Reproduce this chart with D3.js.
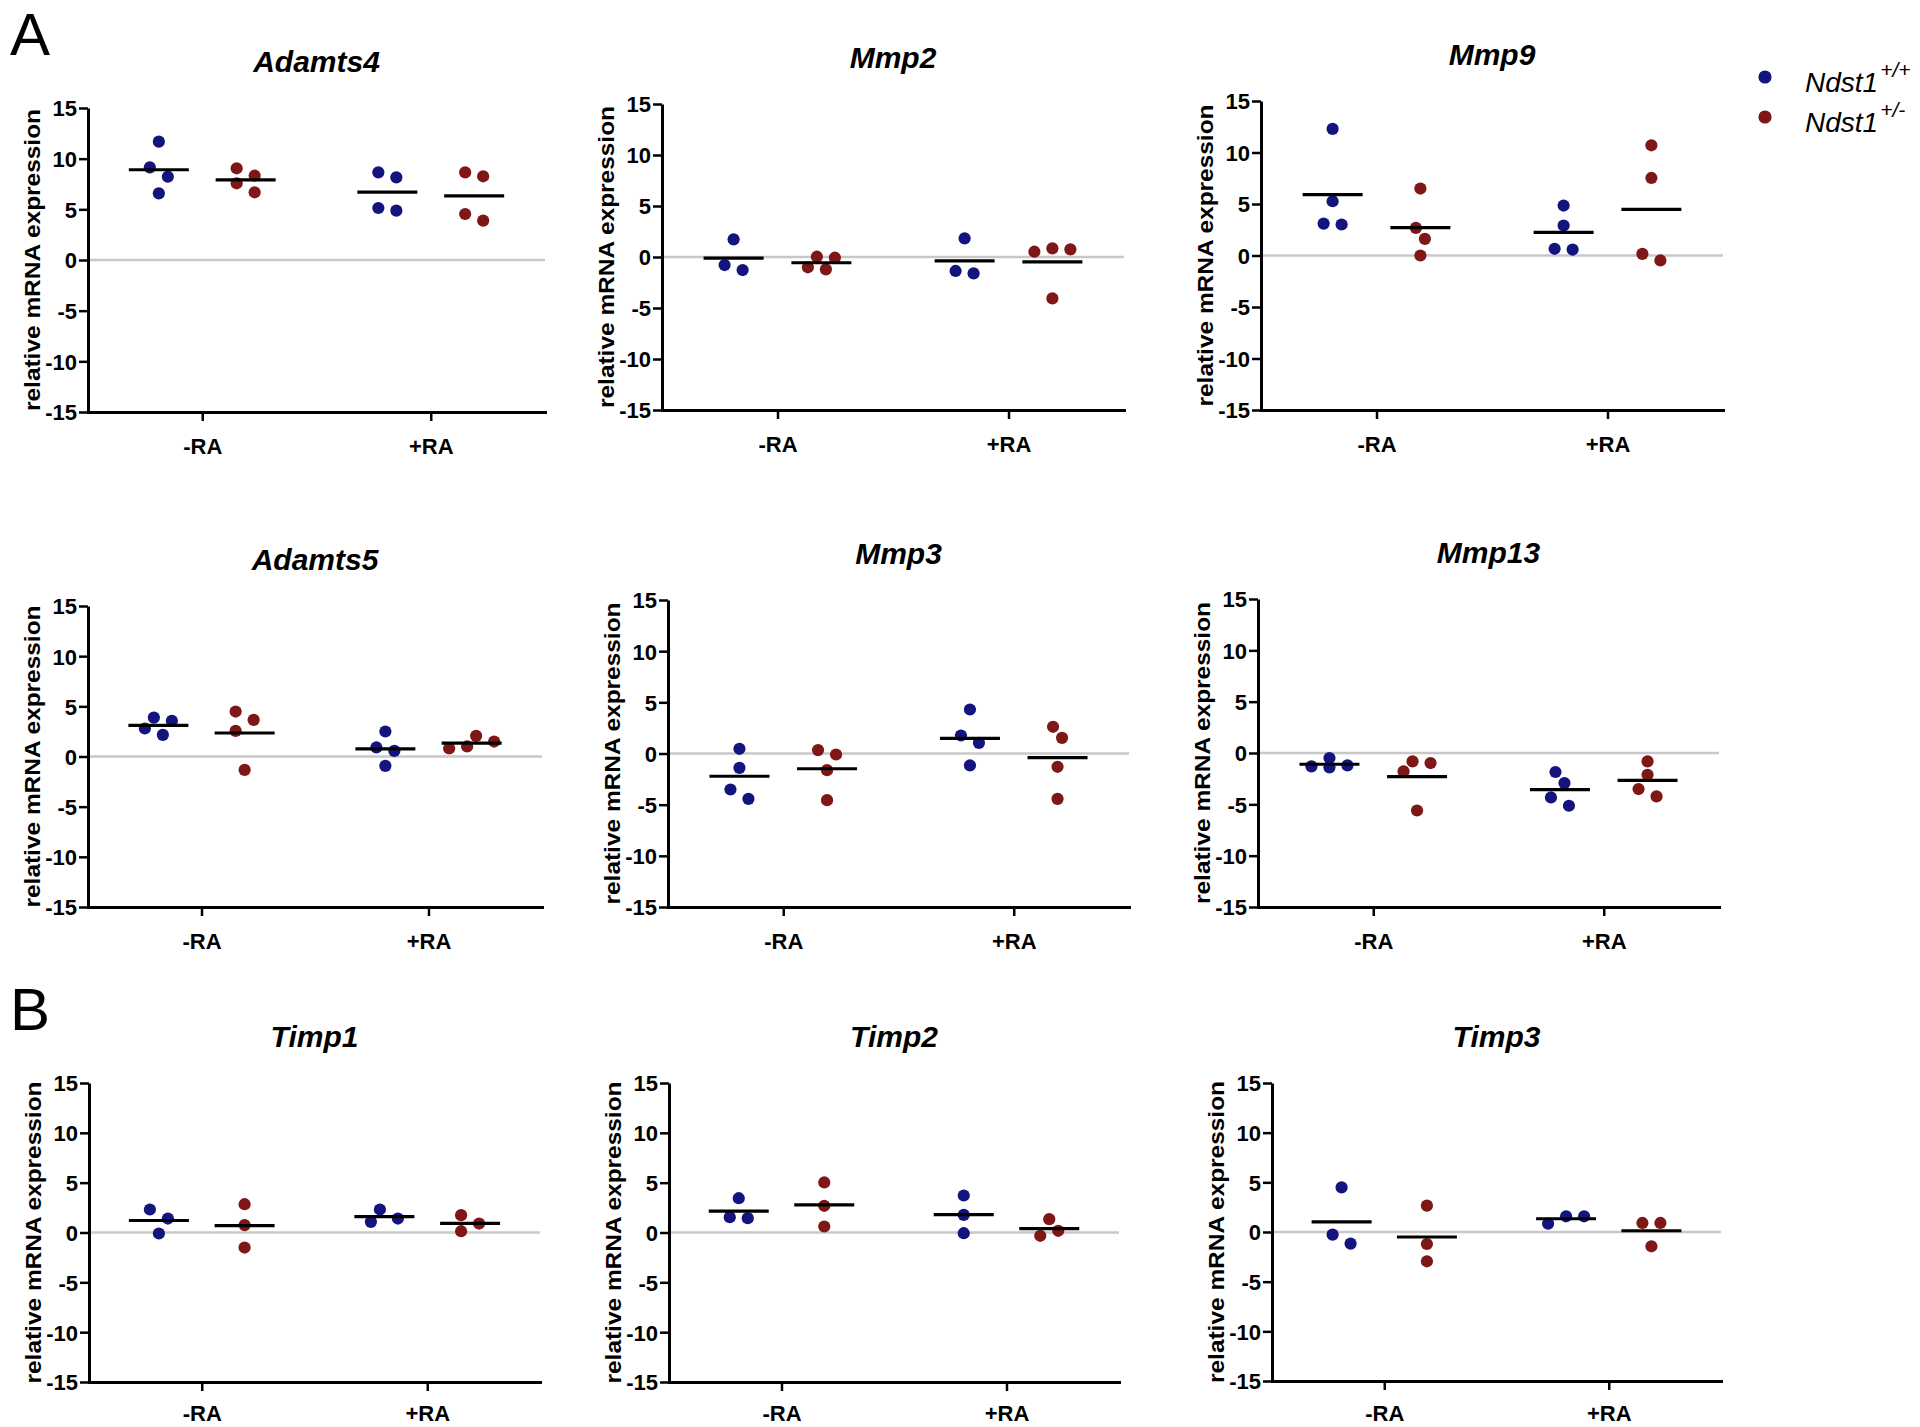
<!DOCTYPE html>
<html>
<head>
<meta charset="utf-8">
<script src="https://cdn.jsdelivr.net/npm/d3@7"></script>
<style>
  body { margin: 0; background: #ffffff; }
  svg { display: block; font-family: "Liberation Sans", Arial, sans-serif; }
</style>
</head>
<body>
<svg id="chart" width="1920" height="1427"></svg>
<script>
// ---------------- DATA ----------------
const genes = ["Adamts4", "Mmp2", "Mmp9", "Adamts5", "Mmp3", "Mmp13", "Timp1", "Timp2", "Timp3"];
const treatments = ["-RA", "+RA"];
const genotypeNames = ["Ndst1", "Ndst1"];
const genotypeSups = ["+/+", "+/-"];
const yTicks = [-15, -10, -5, 0, 5, 10, 15];
const yLabel = "relative mRNA expression";
const sectionLabels = ["A", "B"];

// each array: [values at -RA, values at +RA]
const adamts4Wt  = [[11.68, 9.14, 8.22, 6.58], [8.65, 8.16, 5.13, 4.87]];
const adamts4Het = [[9.05, 8.32, 7.57, 6.68], [8.65, 8.26, 4.54, 3.88]];
const mmp2Wt     = [[1.73, -0.79, -1.28], [1.83, -1.37, -1.60]];
const mmp2Het    = [[0.03, -0.07, -1.01, -1.21], [0.85, 0.75, 0.52, -4.06]];
const mmp9Wt     = [[12.29, 5.27, 3.10, 3.01], [4.85, 2.91, 0.65, 0.58]];
const mmp9Het    = [[6.50, 2.68, 1.62, 0.00], [10.70, 7.53, 0.16, -0.48]];
const adamts5Wt  = [[3.88, 3.55, 2.79, 2.16], [2.49, 0.90, 0.56, -0.93]];
const adamts5Het = [[4.48, 3.65, 2.56, -1.33], [2.06, 1.49, 1.00, 0.80]];
const mmp3Wt     = [[0.46, -1.40, -3.52, -4.43], [4.30, 1.76, 1.04, -1.17]];
const mmp3Het    = [[0.33, -0.10, -1.63, -4.56], [2.61, 1.53, -1.30, -4.43]];
const mmp13Wt    = [[-0.49, -1.20, -1.30, -1.40], [-1.85, -2.93, -4.33, -5.14]];
const mmp13Het   = [[-0.81, -0.98, -1.79, -5.60], [-0.81, -2.12, -3.51, -4.23]];
const timp1Wt    = [[2.31, 1.40, -0.10], [2.31, 1.40, 1.07]];
const timp1Het   = [[2.84, 0.74, -1.51], [1.74, 0.90, 0.13]];
const timp2Wt    = [[3.44, 1.54, 1.44], [3.71, 1.77, -0.07]];
const timp2Het   = [[5.02, 2.68, 0.60], [1.34, 0.17, -0.33]];
const timp3Wt    = [[4.49, -0.27, -1.17], [1.58, 1.58, 0.84]];
const timp3Het   = [[2.65, -1.21, -2.95], [0.91, 0.91, -1.44]];

const seriesByGene = [
  [adamts4Wt, adamts4Het], [mmp2Wt, mmp2Het], [mmp9Wt, mmp9Het],
  [adamts5Wt, adamts5Het], [mmp3Wt, mmp3Het], [mmp13Wt, mmp13Het],
  [timp1Wt, timp1Het], [timp2Wt, timp2Het], [timp3Wt, timp3Het]
];

// ---------------- LAYOUT / STYLE ----------------
const frames = [
  {x0: 88,   x1: 545,  y0: 108,  y1: 412},
  {x0: 662,  x1: 1124, y0: 104,  y1: 410},
  {x0: 1261, x1: 1723, y0: 101,  y1: 410},
  {x0: 88,   x1: 542,  y0: 606,  y1: 907},
  {x0: 668,  x1: 1129, y0: 600,  y1: 907},
  {x0: 1258, x1: 1719, y0: 599,  y1: 907},
  {x0: 89,   x1: 540,  y0: 1083, y1: 1382},
  {x0: 669,  x1: 1119, y0: 1083, y1: 1382},
  {x0: 1272, x1: 1721, y0: 1083, y1: 1381}
];
const colors = ["#14147e", "#7f1717"];
const dotR = 6.1;
const swarmStep = 9;
const meanHalf = 30;
const tickFont = 22;

const svg = d3.select("#chart");
svg.append("rect").attr("width", 1920).attr("height", 1427).attr("fill", "#fff");

// section letters
const sectionPos = [{x: 10, y: 55}, {x: 10, y: 1030}];
sectionLabels.forEach((s, i) => {
  svg.append("text").attr("x", sectionPos[i].x).attr("y", sectionPos[i].y)
    .attr("font-size", 60).attr("fill", "#000").text(s);
});

function swarm(vals, y) {
  const pts = vals.map(v => ({v, py: y(v), dx: 0})).sort((a, b) => a.py - b.py);
  const minD = 2 * dotR + 1;
  const cands = [0, swarmStep, -swarmStep, 2 * swarmStep, -2 * swarmStep, 3 * swarmStep, -3 * swarmStep];
  const placed = [];
  for (const p of pts) {
    for (const c of cands) {
      if (placed.every(q => Math.hypot(q.dx - c, q.py - p.py) >= minD)) { p.dx = c; break; }
    }
    placed.push(p);
  }
  // center each vertical cluster
  let cluster = [];
  const flush = () => {
    if (cluster.length > 1) {
      const ext = d3.extent(cluster, d => d.dx);
      const shift = (ext[0] + ext[1]) / 2;
      cluster.forEach(d => d.dx -= shift);
    }
    cluster = [];
  };
  pts.forEach((p, i) => {
    if (i > 0 && p.py - pts[i - 1].py >= minD) flush();
    cluster.push(p);
  });
  flush();
  return pts;
}

genes.forEach((gene, gi) => {
  const f = frames[gi];
  const g = svg.append("g");
  const y = d3.scaleLinear().domain([-15, 15]).range([f.y1, f.y0]);
  const x = d3.scalePoint().domain(treatments).range([f.x0, f.x1]).padding(0.5);
  const off = x.step() * 0.19;
  const sub = d3.scalePoint().domain([0, 1]).range([-off, off]);

  // zero line
  g.append("line").attr("x1", f.x0).attr("x2", f.x1)
    .attr("y1", y(0)).attr("y2", y(0))
    .attr("stroke", "#c8c8c8").attr("stroke-width", 2.5);

  // points
  seriesByGene[gi].forEach((ser, k) => {
    ser.forEach((vals, t) => {
      const cx = x(treatments[t]) + sub(k);
      const pts = swarm(vals, y);
      g.selectAll(null).data(pts).enter().append("circle")
        .attr("cx", d => cx + d.dx).attr("cy", d => d.py)
        .attr("r", dotR).attr("fill", colors[k]);
    });
  });
  // mean lines
  seriesByGene[gi].forEach((ser, k) => {
    ser.forEach((vals, t) => {
      const cx = x(treatments[t]) + sub(k);
      const m = d3.mean(vals);
      g.append("line").attr("x1", cx - meanHalf).attr("x2", cx + meanHalf)
        .attr("y1", y(m)).attr("y2", y(m))
        .attr("stroke", "#000").attr("stroke-width", 3.2);
    });
  });

  // y axis
  const ya = g.append("g").attr("transform", `translate(${f.x0},0)`)
    .call(d3.axisLeft(y).tickValues(yTicks).tickFormat(d => String(d))
      .tickSize(9).tickSizeOuter(0).tickPadding(2));
  ya.select(".domain").attr("stroke-width", 3).attr("stroke", "#000");
  ya.selectAll(".tick line").attr("stroke-width", 2.5).attr("stroke", "#000");
  ya.selectAll(".tick text").attr("font-size", tickFont).attr("font-weight", "bold")
    .attr("font-family", "Liberation Sans, Arial, sans-serif").attr("fill", "#000").attr("dy", "0.36em");

  // x axis
  const labelOff = Math.min(42, 1421 - f.y1);
  const xa = g.append("g").attr("transform", `translate(0,${f.y1})`)
    .call(d3.axisBottom(x).tickSize(9).tickSizeOuter(0));
  xa.select(".domain").attr("stroke-width", 3).attr("stroke", "#000").attr("stroke-linecap", "square");
  xa.selectAll(".tick line").attr("stroke-width", 2.5).attr("stroke", "#000");
  xa.selectAll(".tick text").attr("y", labelOff).attr("dy", null)
    .attr("font-size", tickFont).attr("font-weight", "bold")
    .attr("font-family", "Liberation Sans, Arial, sans-serif").attr("fill", "#000");

  // y label
  g.append("text")
    .attr("transform", `translate(${f.x0 - 48},${(f.y0 + f.y1) / 2}) rotate(-90)`)
    .attr("x", -151).attr("y", 0)
    .attr("textLength", 302).attr("lengthAdjust", "spacingAndGlyphs")
    .attr("font-size", 21.5).attr("font-weight", "bold").attr("fill", "#000")
    .text(yLabel);

  // title
  g.append("text").attr("x", (f.x0 + f.x1) / 2).attr("y", f.y0 - 36)
    .attr("text-anchor", "middle").attr("font-size", 30)
    .attr("font-weight", "bold").attr("font-style", "italic").attr("fill", "#000")
    .text(gene);
});

// legend
const legendPos = [{x: 1765, y: 77}, {x: 1765, y: 117}];
genotypeNames.forEach((name, k) => {
  const p = legendPos[k];
  svg.append("circle").attr("cx", p.x).attr("cy", p.y).attr("r", 6.6).attr("fill", colors[k]);
  const t = svg.append("text").attr("x", p.x + 40).attr("y", p.y + 14.5)
    .attr("font-size", 28).attr("font-style", "italic").attr("fill", "#000");
  t.append("tspan").text(name);
  t.append("tspan").attr("dx", 2).attr("dy", -15).attr("font-size", 21).text(genotypeSups[k]);
});
</script>
</body>
</html>
